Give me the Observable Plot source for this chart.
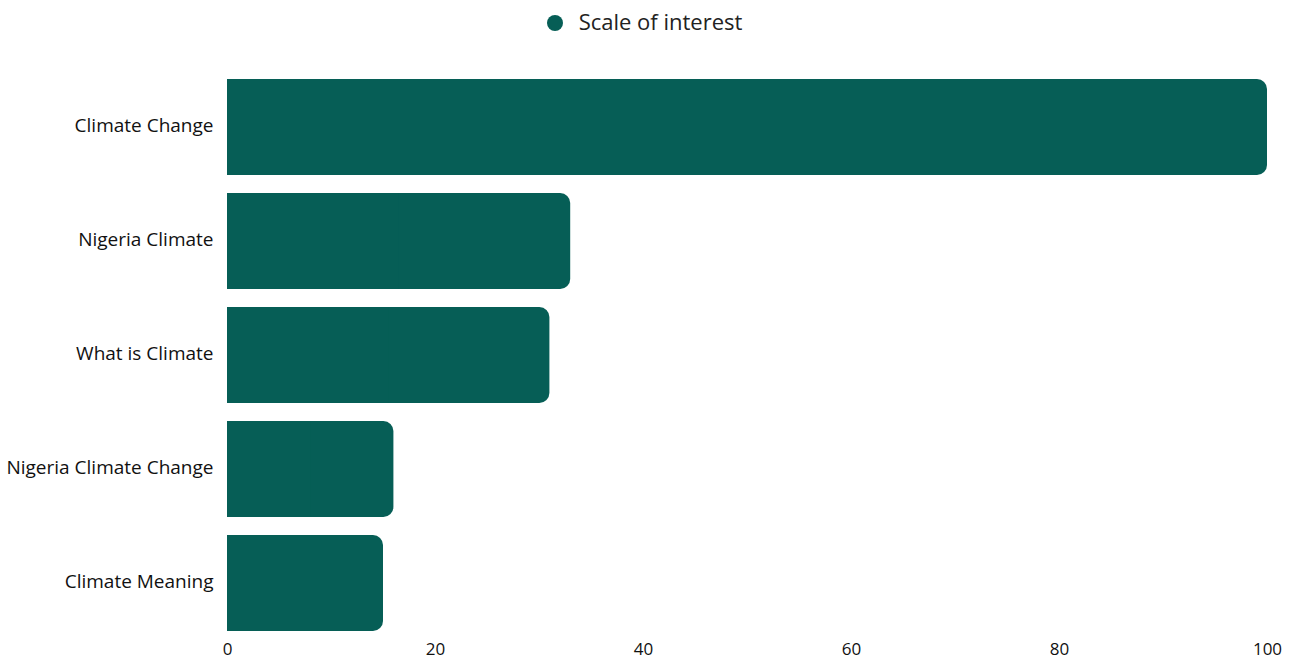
<!DOCTYPE html>
<html>
<head>
<meta charset="utf-8">
<script src="https://cdn.jsdelivr.net/npm/d3@7"></script>
<script src="https://cdn.jsdelivr.net/npm/@observablehq/plot@0.6"></script>
<style>
  body { margin: 0; background: #fff; font-family: "Open Sans", sans-serif; }
  #legend { height: 45px; display: flex; justify-content: center; align-items: center; gap: 15px; font-size: 22px; color: #222; }
  #legend .dot { width: 16px; height: 16px; border-radius: 50%; background: #065e56; display: inline-block; position: relative; left: -3px; }
  #legend .lbl { position: relative; top: -2px; left: -2px; }
</style>
</head>
<body>
<div id="legend"><span class="dot"></span><span class="lbl">Scale of interest</span></div>
<div id="chart"></div>
<script>
const categories = ["Climate Change", "Nigeria Climate", "What is Climate", "Nigeria Climate Change", "Climate Meaning"];
const values = [100, 33, 31, 16, 15];
const xTicks = [0, 20, 40, 60, 80, 100];
const color = "#065e56";

const data = categories.map((c, i) => ({category: c, value: values[i]}));

const chart = Plot.plot({
  width: 1294,
  height: 615,
  marginLeft: 227,
  marginRight: 27,
  marginTop: 33,
  marginBottom: 28,
  style: {fontFamily: "Open Sans, sans-serif", fontSize: "17px", color: "#111", background: "#fff"},
  x: {domain: [0, 100], tickSize: 0, label: null},
  y: {domain: categories, padding: 0.16, paddingOuter: 0, tickSize: 0, label: null},
  marks: [
    Plot.axisY({tickSize: 0, tickPadding: 14, fontSize: 19, dy: -2}),
    Plot.axisX({ticks: xTicks, tickSize: 0, tickPadding: 10}),
    Plot.barX(data, {x: "value", y: "category", fill: color, rx: 10}),
    Plot.barX(data, {x: d => d.value / 2, y: "category", fill: color})
  ]
});
document.getElementById("chart").appendChild(chart);
</script>
</body>
</html>
